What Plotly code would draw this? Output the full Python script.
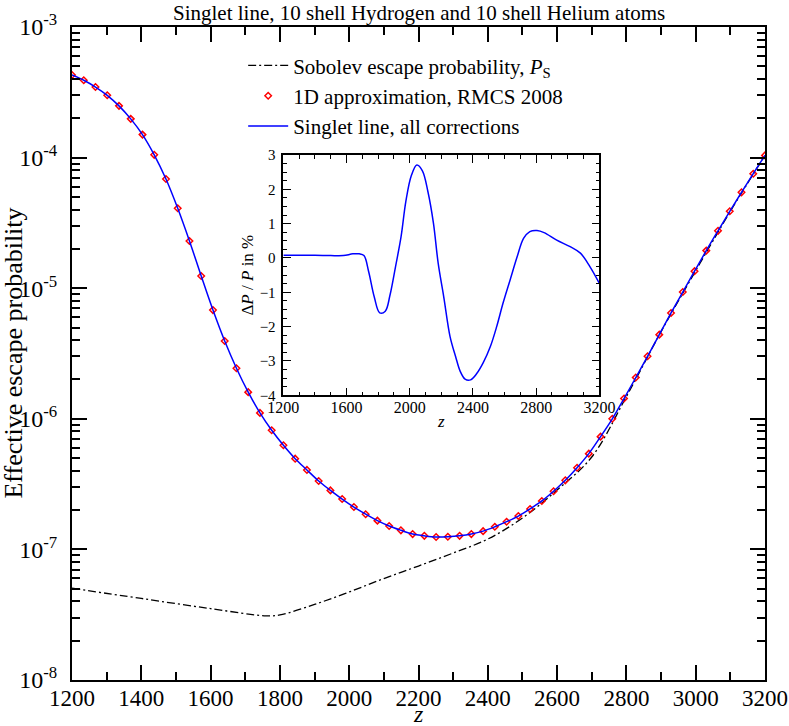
import plotly.graph_objects as go

# ── data ────────────────────────────────────────────────────────────────────
z_pts = [
    1200.0, 1233.9, 1267.8, 1301.7, 1335.6, 1369.5, 1403.4, 1437.3, 1471.2, 1505.1,
    1539.0, 1572.9, 1606.8, 1640.7, 1674.6, 1708.5, 1742.4, 1776.3, 1810.2, 1844.1,
    1878.0, 1911.9, 1945.8, 1979.7, 2013.6, 2047.5, 2081.4, 2115.3, 2149.2, 2183.1,
    2216.9, 2250.8, 2284.7, 2318.6, 2352.5, 2386.4, 2420.3, 2454.2, 2488.1, 2522.0,
    2555.9, 2589.8, 2623.7, 2657.6, 2691.5, 2725.4, 2759.3, 2793.2, 2827.1, 2861.0,
    2894.9, 2928.8, 2962.7, 2996.6, 3030.5, 3064.4, 3098.3, 3132.2, 3166.1, 3200.0,
]
p_1d = [
    4.29e-4, 3.91e-4, 3.47e-4, 3.00e-4, 2.49e-4, 1.98e-4, 1.50e-4, 1.05e-4, 6.85e-5, 4.09e-5,
    2.30e-5, 1.24e-5, 6.80e-6, 3.94e-6, 2.44e-6, 1.60e-6, 1.11e-6, 8.17e-7, 6.27e-7, 4.95e-7,
    4.06e-7, 3.34e-7, 2.83e-7, 2.43e-7, 2.11e-7, 1.86e-7, 1.66e-7, 1.51e-7, 1.40e-7, 1.31e-7,
    1.27e-7, 1.245e-7, 1.25e-7, 1.27e-7, 1.31e-7, 1.38e-7, 1.49e-7, 1.63e-7, 1.80e-7, 2.04e-7,
    2.35e-7, 2.79e-7, 3.38e-7, 4.22e-7, 5.41e-7, 7.30e-7, 1.00e-6, 1.43e-6, 2.07e-6, 3.01e-6,
    4.41e-6, 6.46e-6, 9.35e-6, 1.35e-5, 1.94e-5, 2.75e-5, 3.88e-5, 5.42e-5, 7.53e-5, 1.04e-4,
]

z_sob = [1200, 1400, 1600, 1760, 1800, 1900, 2000, 2100, 2200, 2300, 2400,
         2500, 2600, 2700, 2800, 2900, 3000, 3100, 3200]
p_sob = [5.04e-8, 4.21e-8, 3.52e-8, 3.10e-8, 3.15e-8, 3.79e-8, 4.72e-8, 5.98e-8,
         7.46e-8, 9.38e-8, 1.20e-7, 1.74e-7, 2.85e-7, 5.10e-7, 1.48e-6, 4.65e-6,
         1.36e-5, 3.88e-5, 1.04e-4]

z_inset = [1200, 1300, 1400, 1500, 1580, 1640, 1680, 1710, 1740, 1775, 1810, 1845,
           1875, 1910, 1945, 1975, 2010, 2045, 2080, 2115, 2150, 2180, 2215, 2255,
           2290, 2320, 2350, 2385, 2425, 2465, 2510, 2550, 2590, 2635, 2680, 2720,
           2760, 2805, 2850, 2930, 3015, 3080, 3140, 3200]
dp_inset = [0.08, 0.08, 0.08, 0.07, 0.07, 0.12, 0.12, 0.07, -0.40, -1.13, -1.60, -1.55,
            -1.08, -0.25, 0.62, 1.64, 2.40, 2.71, 2.54, 1.93, 1.01, -0.16, -1.13, -2.29,
            -2.87, -3.31, -3.53, -3.55, -3.36, -3.05, -2.58, -2.00, -1.32, -0.64, 0.04, 0.57,
            0.77, 0.80, 0.74, 0.52, 0.33, 0.14, -0.25, -0.74]

y_tickvals = [1e-8, 1e-7, 1e-6, 1e-5, 1e-4, 1e-3]
y_ticktext = ["10<sup>-8</sup>", "10<sup>-7</sup>", "10<sup>-6</sup>",
              "10<sup>-5</sup>", "10<sup>-4</sup>", "10<sup>-3</sup>"]

SERIF = "Liberation Serif, Times New Roman, serif"

fig = go.Figure()

fig.add_trace(go.Scatter(
    x=z_sob, y=p_sob, mode="lines", line_shape="spline",
    line=dict(color="black", width=1.3, dash="8px,3px,2px,3px"),
    name="Sobolev escape probability, <i>P</i><sub>S</sub>",
))
fig.add_trace(go.Scatter(
    x=z_pts, y=p_1d, mode="markers",
    marker=dict(symbol="diamond-open", color="red", size=5, line=dict(width=1.5, color="red")),
    name="1D approximation, RMCS 2008",
))
fig.add_trace(go.Scatter(
    x=z_pts, y=p_1d, mode="lines", line_shape="spline",
    line=dict(color="#0000ff", width=1.5),
    name="Singlet line, all corrections",
))

# inset: relative difference
fig.add_trace(go.Scatter(
    x=z_inset, y=dp_inset, mode="lines", line_shape="spline",
    line=dict(color="#0000ff", width=1.5),
    xaxis="x2", yaxis="y2", showlegend=False,
))

axis_common = dict(showline=True, linecolor="black", mirror="allticks", automargin=False,
                   ticks="inside", tickcolor="black", showgrid=False, zeroline=False)

fig.update_layout(
    width=789, height=726,
    margin=dict(l=72, r=24, t=27, b=46),
    paper_bgcolor="white", plot_bgcolor="white",
    font=dict(family=SERIF, color="black"),
    showlegend=True,
    legend=dict(
        x=0.247, y=0.972, xanchor="left", yanchor="top",
        bgcolor="rgba(0,0,0,0)", font=dict(size=21, family=SERIF),
        tracegroupgap=0, itemwidth=40,
    ),
    xaxis=dict(
        **axis_common, range=[1200, 3200], dtick=200, tick0=1200,
        ticklen=15, tickwidth=1.5, linewidth=2,
        minor=dict(ticks="inside", dtick=100, ticklen=8, tickwidth=1.5, tickcolor="black"),
        tickfont=dict(size=23, family=SERIF), ticklabelstandoff=-4,
        domain=[0, 1],
    ),
    yaxis=dict(
        **axis_common, type="log", range=[-8, -3],
        tickmode="array", tickvals=y_tickvals, ticktext=y_ticktext,
        ticklen=15, tickwidth=1.5, linewidth=2,
        minor=dict(ticks="inside", dtick="D1", ticklen=8, tickwidth=1.5, tickcolor="black"),
        tickfont=dict(size=24, family=SERIF), ticklabelstandoff=8,
        domain=[0, 1],
    ),
    xaxis2=dict(
        **axis_common, anchor="y2", domain=[0.305, 0.761],
        range=[1200, 3200], dtick=400, tick0=1200,
        ticklen=8, tickwidth=1.2, linewidth=1.5,
        minor=dict(ticks="inside", dtick=100, ticklen=4, tickwidth=1.2, tickcolor="black"),
        tickfont=dict(size=16, family=SERIF), ticklabelstandoff=-3,
        title=dict(text="<i>z</i>", font=dict(size=17, family=SERIF), standoff=0),
    ),
    yaxis2=dict(
        **axis_common, anchor="x2", domain=[0.436, 0.804],
        range=[-4, 3], dtick=1,
        ticklen=8, tickwidth=1.2, linewidth=1.5,
        minor=dict(ticks="inside", dtick=0.25, ticklen=4, tickwidth=1.2, tickcolor="black"),
        tickfont=dict(size=15, family=SERIF), ticklabelstandoff=3,
        title=dict(text="Δ<i>P</i> / <i>P</i> in %", font=dict(size=17, family=SERIF), standoff=2),
    ),
)

fig.add_annotation(
    text="Singlet line, 10 shell Hydrogen and 10 shell Helium atoms",
    xref="paper", yref="paper", x=0.5, y=1.022,
    xanchor="center", yanchor="middle", showarrow=False,
    font=dict(size=21, family=SERIF, color="black"),
)
# axis titles of the main panel as annotations, kept clear of the tick labels
fig.add_annotation(
    text="<i>z</i>",
    xref="paper", yref="paper", x=0.5, y=-0.052,
    xanchor="center", yanchor="middle", showarrow=False,
    font=dict(size=24, family=SERIF, color="black"),
)
fig.add_annotation(
    text="Effective escape probability", textangle=-90,
    xref="paper", yref="paper", x=-0.085, y=0.5,
    xanchor="center", yanchor="middle", showarrow=False,
    font=dict(size=26, family=SERIF, color="black"),
)

# the page's default 8px body margin would shift the figure; remove it
fig.write_html(
    "out.html",
    config={"displayModeBar": False},
    post_script="document.body.style.margin='0';",
)
